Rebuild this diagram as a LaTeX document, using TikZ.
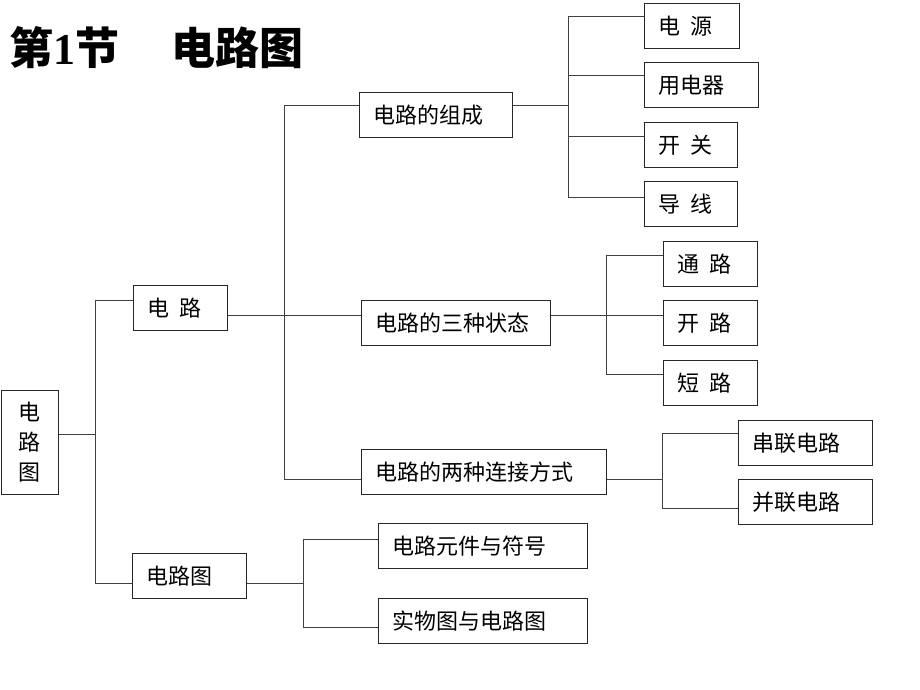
\documentclass[tikz,border=0pt]{standalone}
\usepackage{fontspec}
\usepackage{tikz}
\usetikzlibrary{positioning}
\newfontfamily\cjk{Noto Sans CJK SC}
\newfontfamily\numfont{Liberation Serif}
\newcommand{\kg}{\hspace{10pt}}
\tikzset{blk/.style={draw=black!85,line width=1pt,rectangle,anchor=north west,minimum height=45pt,inner xsep=14pt,inner ysep=2pt,align=left,font=\cjk\fontsize{22}{24}\selectfont},
         con/.style={draw=black!75,line width=1pt}}

\begin{document}
\begin{tikzpicture}[x=1pt,y=-1pt]
    \useasboundingbox (0,0) rectangle (920,690);
    \node[anchor=west,inner sep=0pt,font=\fontsize{44}{48}\selectfont\bfseries] (title) at (9,48) {\cjk 第{\numfont 1}节　\hspace{8pt}电路图};

    \node[blk,minimum height=104pt,inner xsep=12pt,text width=33pt,align=center,font=\cjk\fontsize{22}{30}\selectfont] (root) at (0.75,390) {电\\路\\图};
    \node[blk,text width=66pt] (b1) at (133,285) {电\kg 路};
    \node[blk,text width=86pt] (b2) at (132,553) {电路图};

    \node[blk,text width=125pt] (c1) at (359,92) {电路的组成};
    \node[blk,text width=161pt] (c2) at (361,300) {电路的三种状态};
    \node[blk,text width=217pt] (c3) at (361,449) {电路的两种连接方式};

    \node[blk,text width=67pt] (d1) at (644,3) {电\kg 源};
    \node[blk,text width=86pt] (d2) at (644,62) {用电器};
    \node[blk,text width=65pt] (d3) at (644,122) {开\kg 关};
    \node[blk,text width=65pt] (d4) at (644,181) {导\kg 线};

    \node[blk,text width=66pt] (e1) at (663,241) {通\kg 路};
    \node[blk,text width=66pt] (e2) at (663,300) {开\kg 路};
    \node[blk,text width=66pt] (e3) at (663,360) {短\kg 路};

    \node[blk,text width=106pt] (f1) at (738,420) {串联电路};
    \node[blk,text width=106pt] (f2) at (738,479) {并联电路};

    \node[blk,text width=181pt] (g1) at (378,523) {电路元件与符号};
    \node[blk,text width=181pt] (g2) at (378,598) {实物图与电路图};

    % root to 电路 / 电路图
    \coordinate (r1) at (95,300);
    \coordinate (rm) at (95,434);
    \coordinate (r2) at (95,583);
    \draw[con] (r1) -- (r2);
    \draw[con] (root.east |- rm) -- (rm);
    \draw[con] (b1.west |- r1) -- (r1);
    \draw[con] (b2.west |- r2) -- (r2);

    % 电路 trunk
    \coordinate (t1) at (284,106);
    \coordinate (tm) at (284,315);
    \coordinate (t2) at (284,479);
    \draw[con] (t1) -- (t2);
    \draw[con] (b1.east |- tm) -- (tm);
    \draw[con] (c1.west |- t1) -- (t1);
    \draw[con] (c2.west |- tm) -- (tm);
    \draw[con] (c3.west |- t2) -- (t2);

    % 电路图 branch
    \coordinate (u1) at (303,539);
    \coordinate (um) at (303,583);
    \coordinate (u2) at (303,627);
    \draw[con] (u1) -- (u2);
    \draw[con] (b2.east |- um) -- (um);
    \draw[con] (g1.west |- u1) -- (u1);
    \draw[con] (g2.west |- u2) -- (u2);

    % 组成
    \coordinate (sm) at (568,106);
    \draw[con] (c1.east |- sm) -- (sm);
    \foreach \n/\y in {d1/17,d2/76,d3/136,d4/197}{
        \coordinate (\n j) at (568,\y);
        \draw[con] (\n.west |- \n j) -- (\n j);
    }
    \draw[con] (d1j) -- (d4j);

    % 三种状态
    \coordinate (vm) at (606,315);
    \draw[con] (c2.east |- vm) -- (vm);
    \foreach \n/\y in {e1/255,e2/315,e3/374}{
        \coordinate (\n j) at (606,\y);
        \draw[con] (\n.west |- \n j) -- (\n j);
    }
    \draw[con] (e1j) -- (e3j);

    % 两种连接方式
    \coordinate (wm) at (662,479);
    \draw[con] (c3.east |- wm) -- (wm);
    \foreach \n/\y in {f1/433,f2/508}{
        \coordinate (\n j) at (662,\y);
        \draw[con] (\n.west |- \n j) -- (\n j);
    }
    \draw[con] (f1j) -- (f2j);
\end{tikzpicture}
\end{document}
